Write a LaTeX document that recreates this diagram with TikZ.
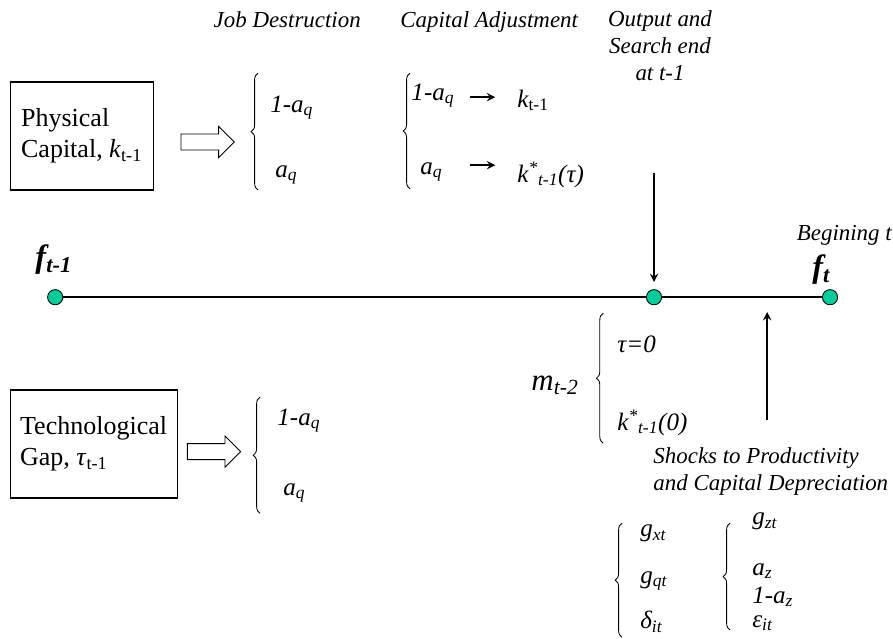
\documentclass[tikz,border=0pt]{standalone}
\usepackage{fontspec}
\setmainfont{Liberation Serif}
\usetikzlibrary{shapes.arrows,decorations.pathreplacing}
\definecolor{verdepunto}{RGB}{0,204,153}

\begin{document}
\begin{tikzpicture}[
    caja/.style={draw, line width=0.8pt, minimum height=2.7cm, align=left, inner sep=0pt, font=\fontsize{18.5}{22}\selectfont},
    flechahueca/.style={draw, single arrow, line width=0.6pt, minimum height=1.33cm, minimum width=0.75cm, single arrow head extend=0.19cm, inner sep=0.19cm},
    llave/.style={decorate, decoration={brace, amplitude=0.17cm}, line width=0.6pt},
    elem/.style={anchor=base west, inner sep=0pt, font=\fontsize{17.8}{21}\selectfont\itshape},
    etiqueta/.style={inner sep=0pt, font=\fontsize{16.3}{19.2}\selectfont\itshape},
    punto/.style={circle, draw, line width=0.6pt, fill=verdepunto, minimum size=0.38cm, inner sep=0pt},
    flecha/.style={->, line width=1.6pt, >=stealth},
    marca/.style={anchor=base west, inner sep=0pt, font=\fontsize{23}{27}\selectfont\bfseries\itshape}
]
\useasboundingbox (0,0) rectangle (22.325,-15.95);

% capital fisico y brecha tecnologica
\node[caja, minimum width=3.575cm] (capital) at (2.04,-3.4) {Physical\\Capital, \textit{k}\textsubscript{t-1}};
\node[caja, minimum width=4.175cm] (brecha) at (2.34,-11.1) {Technological\\Gap, \textit{τ}\textsubscript{t-1}};
\node[flechahueca] (hueco1) at (5.09,-3.55) {};
\node[flechahueca] (hueco2) at (5.25,-11.29) {};

% destruccion de empleo
\node[etiqueta, anchor=base] (destruccion) at (7.18,-0.68) {Job Destruction};
\draw[llave] (6.45,-4.75) -- (6.45,-1.83);
\node[elem] (jd1) at (6.75,-2.8) {1-a\textsubscript{q}};
\node[elem] (jd2) at (6.88,-4.43) {a\textsubscript{q}};

% ajuste de capital
\node[etiqueta, anchor=base] (ajuste) at (12.23,-0.68) {Capital Adjustment};
\draw[llave] (10.25,-4.72) -- (10.25,-1.83);
\node[elem] (ca1) at (10.28,-2.5) {1-a\textsubscript{q}};
\node[elem] (ca2) at (10.5,-4.35) {a\textsubscript{q}};
\node[elem] (kt1) at (12.93,-2.68) {k\textsubscript{\upshape t-1}};
\node[elem] (kt2) at (12.93,-4.55) {k\textsuperscript{*}\textsubscript{t-1}(τ)};
\coordinate (fa1) at (11.75,-2.43);
\coordinate (fb1) at (12.38,-2.43);
\coordinate (fa2) at (11.75,-4.13);
\coordinate (fb2) at (12.38,-4.13);
\draw[flecha] (fa1) -- (fb1);
\draw[flecha] (fa2) -- (fb2);

% produccion y busqueda
\node[etiqueta, align=center, anchor=north] (produccion) at (16.5,-0.25) {Output and\\Search end\\at t-1};
\coordinate (bajada) at (16.35,-4.33);

% linea de tiempo
\node[punto] (p1) at (1.38,-7.43) {};
\node[punto] (p2) at (16.35,-7.43) {};
\node[punto] (p3) at (20.75,-7.43) {};
\draw[line width=1.8pt] (p1) -- (p2) -- (p3);
\draw[flecha, shorten >=0.18cm] (bajada) -- (p2);
\node[marca] (ft1) at (0.88,-6.68) {f\textsubscript{t-1}};
\node[marca] (ft) at (20.3,-6.93) {f\textsubscript{t}};
\node[etiqueta, anchor=base east] (comienzo) at (22.3,-6.0) {Begining t};

% emparejamiento
\node[anchor=base west, inner sep=0pt, font=\fontsize{22}{26}\selectfont\itshape] (mt2) at (13.28,-9.75) {m\textsubscript{t-2}};
\draw[llave] (15.08,-11.08) -- (15.08,-7.83);
\node[elem] (tau0) at (15.43,-8.8) {τ=0};
\node[elem] (k0) at (15.43,-10.75) {k\textsuperscript{*}\textsubscript{t-1}(0)};

% choques
\coordinate (subida1) at (19.18,-10.5);
\coordinate (subida2) at (19.18,-7.8);
\draw[flecha] (subida1) -- (subida2);
\node[etiqueta, align=left, anchor=north west] (choques) at (16.33,-11.18) {Shocks to Productivity\\and Capital Depreciation};

\draw[llave] (15.55,-15.93) -- (15.55,-13.08);
\node[elem] (gx) at (16.0,-13.42) {g\textsubscript{xt}};
\node[elem] (gq) at (16.0,-14.58) {g\textsubscript{qt}};
\node[elem] (delta) at (16.0,-15.72) {δ\textsubscript{it}};
\draw[llave] (18.25,-15.75) -- (18.25,-13.08);
\node[elem] (gz) at (18.8,-13.12) {g\textsubscript{zt}};
\node[elem] (az) at (18.8,-14.38) {a\textsubscript{z}};
\node[elem] (az1) at (18.8,-15.08) {1-a\textsubscript{z}};
\node[elem] (eps) at (18.8,-15.68) {ε\textsubscript{it}};

% brecha tecnologica
\draw[llave] (6.5,-12.83) -- (6.5,-9.93);
\node[elem] (tg1) at (6.93,-10.63) {1-a\textsubscript{q}};
\node[elem] (tg2) at (7.08,-12.38) {a\textsubscript{q}};
\end{tikzpicture}
\end{document}
